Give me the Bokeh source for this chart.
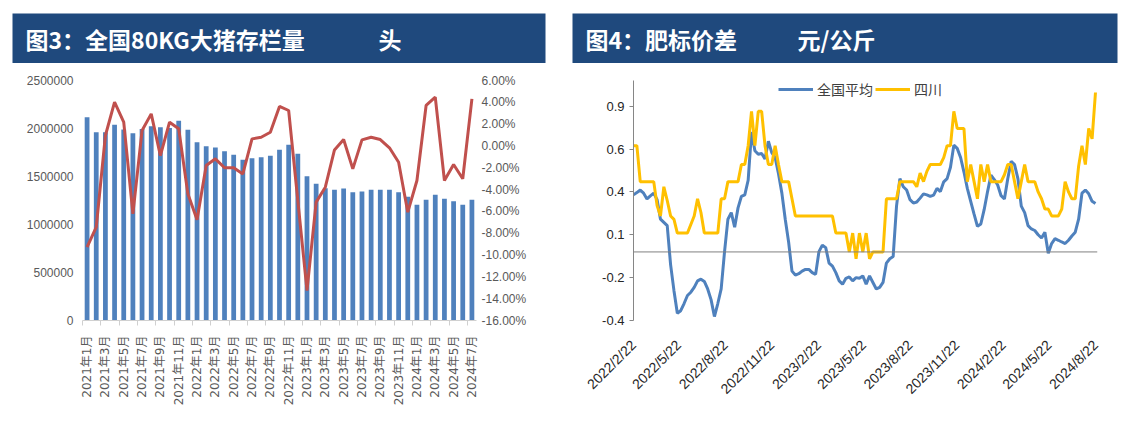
import math
import pandas as pd
from bokeh.plotting import figure
from bokeh.models import (Range1d, LinearAxis, FixedTicker, PrintfTickFormatter,
                          NumeralTickFormatter, Span, Legend, LegendItem)
from bokeh.layouts import column, row
from bokeh.core.properties import value
from bokeh.embed import file_html
from bokeh.resources import INLINE

# ---------------- data: chart 3 ----------------
months = [f"{y}年{m}月" for y in (2021, 2022, 2023, 2024) for m in range(1, 13)][:43]
inventory = [2118000, 1962000, 1960000, 2038000, 1990000, 1951000, 1995000, 2024000,
             2014000, 2005000, 2080000, 1986000, 1858000, 1816000, 1802000, 1764000,
             1726000, 1674000, 1691000, 1701000, 1715000, 1778000, 1830000, 1736000,
             1503000, 1424000, 1378000, 1361000, 1375000, 1337000, 1344000, 1361000,
             1361000, 1361000, 1337000, 1290000, 1205000, 1257000, 1309000, 1267000,
             1243000, 1205000, 1257000]
yoy_pct = [-9.28, -7.45, 0.96, 4.01, 2.18, -6.22, 1.42, 2.94, -0.88, 2.18, 1.57, -4.39,
           -6.77, -1.79, -1.18, -2.0, -2.0, -2.56, 0.65, 0.8, 1.26, 3.62, 3.25, -5.0,
           -13.25, -5.15, -3.78, -0.36, 0.59, -2.1, 0.56, 0.8, 0.59, -0.17, -1.49, -6.07,
           -3.17, 3.71, 4.47, -3.17, -1.7, -3.01, 4.32]
left_ticks = [0, 500000, 1000000, 1500000, 2000000, 2500000]
pct_ticks = list(range(-16, 7, 2))

# ---------------- data: chart 4 ----------------
national = [0.333, 0.346, 0.361, 0.343, 0.309, 0.327, 0.343, 0.305, 0.191, 0.172,
            0.153, -0.074, -0.226, -0.358, -0.343, -0.301, -0.254, -0.235, -0.207, -0.169,
            -0.159, -0.172, -0.216, -0.278, -0.377, -0.301, -0.216, 0.002, 0.191, 0.229,
            0.144, 0.257, 0.324, 0.333, 0.418, 0.700, 0.590, 0.570, 0.574, 0.542,
            0.646, 0.579, 0.551, 0.456, 0.343, 0.191, 0.058, -0.112, -0.135, -0.127,
            -0.112, -0.102, -0.102, -0.121, -0.131, 0.002, 0.040, 0.025, -0.065, -0.083,
            -0.121, -0.169, -0.188, -0.154, -0.146, -0.169, -0.150, -0.154, -0.140, -0.188,
            -0.140, -0.178, -0.216, -0.207, -0.178, -0.065, -0.040, -0.027, 0.267, 0.428,
            0.380, 0.361, 0.305, 0.285, 0.291, 0.314, 0.339, 0.333, 0.324, 0.331,
            0.371, 0.352, 0.409, 0.428, 0.494, 0.623, 0.604, 0.551, 0.466, 0.371,
            0.295, 0.220, 0.149, 0.163, 0.248, 0.352, 0.447, 0.422, 0.390, 0.328,
            0.309, 0.428, 0.528, 0.509, 0.428, 0.267, 0.229, 0.153, 0.134, 0.125,
            0.100, 0.081, 0.115, -0.008, 0.049, 0.077, 0.068, 0.058, 0.049, 0.068,
            0.093, 0.115, 0.191, 0.343, 0.361, 0.339, 0.295, 0.282]
sichuan = [0.62, 0.62, 0.41, 0.41, 0.41, 0.41, 0.41, 0.27, 0.21, 0.38,
           0.30, 0.21, 0.19, 0.11, 0.11, 0.11, 0.11, 0.16, 0.21, 0.31,
           0.23, 0.11, 0.11, 0.11, 0.11, 0.11, 0.31, 0.31, 0.41, 0.41,
           0.41, 0.41, 0.51, 0.51, 0.62, 0.82, 0.62, 0.82, 0.82, 0.62,
           0.51, 0.51, 0.62, 0.51, 0.41, 0.41, 0.41, 0.31, 0.21, 0.21,
           0.21, 0.21, 0.21, 0.21, 0.21, 0.21, 0.21, 0.21, 0.21, 0.21,
           0.11, 0.11, 0.11, 0.11, 0.0, 0.11, -0.04, 0.11, 0.0, 0.11,
           -0.04, 0.0, 0.0, 0.0, 0.0, 0.31, 0.31, 0.31, 0.31, 0.41,
           0.41, 0.41, 0.41, 0.41, 0.38, 0.46, 0.41, 0.47, 0.51, 0.51,
           0.51, 0.51, 0.55, 0.62, 0.62, 0.82, 0.72, 0.72, 0.72, 0.41,
           0.51, 0.41, 0.31, 0.51, 0.41, 0.51, 0.41, 0.41, 0.41, 0.41,
           0.45, 0.51, 0.51, 0.41, 0.31, 0.41, 0.51, 0.41, 0.41, 0.41,
           0.35, 0.31, 0.25, 0.25, 0.21, 0.21, 0.21, 0.25, 0.41, 0.35,
           0.31, 0.31, 0.50, 0.62, 0.51, 0.72, 0.66, 0.93]
date_start, date_end = "2022-02-22", "2024-08-22"
x_tick_labels = ["2022/2/22", "2022/5/22", "2022/8/22", "2022/11/22", "2023/2/22",
                 "2023/5/22", "2023/8/22", "2023/11/22", "2024/2/22", "2024/5/22",
                 "2024/8/22"]
y_tick_values = [-0.4, -0.15, 0.1, 0.35, 0.6, 0.85]
y_tick_labels = ["-0.4", "-0.2", "0.1", "0.4", "0.6", "0.9"]

HEADER_BLUE = "#1F497D"
CJK = "Noto Sans CJK SC"


def header(width, band_left, band_right, parts):
    h = figure(width=width, height=63, x_range=Range1d(0, width), y_range=Range1d(0, 63),
               toolbar_location=None, output_backend="svg",
               x_axis_location=None, y_axis_location=None, min_border=0)
    h.grid.visible = False
    h.outline_line_color = None
    h.quad(left=band_left, right=band_right, bottom=0, top=50,
           fill_color=HEADER_BLUE, line_color=None)
    for x, t in parts:
        h.text(x=[x], y=[25], text=[t], text_font=value(CJK), text_font_style="bold",
               text_font_size="23px", text_color="white", text_baseline="middle")
    return h


h1 = header(568, 12, 545, [(25, "图3：全国80KG大猪存栏量"), (378, "头")])
h2 = header(552, 4, 549, [(17, "图4：肥标价差"), (229, "元/公斤")])

# ---------------- chart 3 ----------------
idx = list(range(len(months)))
p1 = figure(width=568, height=350, x_range=Range1d(-0.5, len(months) - 0.5),
            y_range=Range1d(0, 2500000), toolbar_location=None, output_backend="svg",
            min_border_left=82, min_border_right=92, min_border_top=17, min_border_bottom=93)
p1.extra_y_ranges = {"pct": Range1d(-16, 6)}
p1.grid.visible = False
p1.outline_line_color = None
p1.vbar(x=idx, top=inventory, width=0.52, fill_color="#4F81BD", line_color=None)
p1.line(x=idx, y=yoy_pct, y_range_name="pct", line_color="#C0504D", line_width=3)

ya = p1.yaxis[0]
ya.ticker = FixedTicker(ticks=left_ticks)
ya.formatter = NumeralTickFormatter(format="0")
ya.axis_line_color = None
ya.major_tick_line_color = None
ya.minor_tick_line_color = None
ya.major_tick_out = 0
ya.major_label_standoff = 9
ya.major_label_text_font = "Liberation Sans"
ya.major_label_text_font_size = "12px"
ya.major_label_text_color = "#595959"

ra = LinearAxis(y_range_name="pct", ticker=FixedTicker(ticks=pct_ticks),
                formatter=PrintfTickFormatter(format="%.2f%%"))
ra.axis_line_color = None
ra.major_tick_line_color = None
ra.minor_tick_line_color = None
ra.major_tick_out = 0
ra.major_label_standoff = 5
ra.major_label_text_font = "Liberation Sans"
ra.major_label_text_font_size = "12px"
ra.major_label_text_color = "#595959"
p1.add_layout(ra, "right")

xa = p1.xaxis[0]
shown = idx[::2]
xa.ticker = FixedTicker(ticks=shown, minor_ticks=[i - 0.5 for i in shown])
xa.major_label_overrides = {i: months[i] for i in shown}
xa.major_label_orientation = math.pi / 2
xa.axis_line_color = "#d0d0d0"
xa.major_tick_line_color = None
xa.major_tick_out = 0
xa.minor_tick_out = 5
xa.minor_tick_in = 0
xa.minor_tick_line_color = "#d0d0d0"
xa.major_label_standoff = 10
xa.major_label_text_font = "DejaVu Sans, Noto Sans CJK SC"
xa.major_label_text_font_size = "12px"
xa.major_label_text_color = "#595959"

# ---------------- chart 4 ----------------
dates = pd.date_range(date_start, date_end, periods=len(national))
pad = pd.Timedelta(days=4)
p2 = figure(width=552, height=350, x_axis_type="datetime",
            x_range=Range1d(dates[0], dates[-1] + pad), y_range=Range1d(-0.4, 1.0),
            toolbar_location=None, output_backend="svg",
            min_border_left=65, min_border_right=23, min_border_top=11, min_border_bottom=93)
p2.grid.visible = False
p2.outline_line_color = None
p2.add_layout(Span(location=0, dimension="width", line_color="#808080", line_width=1))
r_nat = p2.line(dates, national, line_color="#4F81BD", line_width=3)
r_sc = p2.line(dates, sichuan, line_color="#FFC000", line_width=3)

tick_ms = [int(pd.Timestamp(pd.to_datetime(t, format="%Y/%m/%d")).value // 10**6) for t in x_tick_labels]
xb = p2.xaxis[0]
xb.ticker = FixedTicker(ticks=tick_ms)
xb.major_label_overrides = {ms: lab for ms, lab in zip(tick_ms, x_tick_labels)}
xb.major_label_orientation = math.pi / 4
xb.axis_line_color = None
xb.major_tick_line_color = None
xb.minor_tick_line_color = None
xb.major_tick_out = 0
xb.major_label_standoff = 22
xb.major_label_text_font = "Liberation Sans"
xb.major_label_text_font_size = "14px"
xb.major_label_text_color = "#262626"

yb = p2.yaxis[0]
yb.ticker = FixedTicker(ticks=y_tick_values)
yb.major_label_overrides = {v: s for v, s in zip(y_tick_values, y_tick_labels)}
yb.axis_line_color = "#868686"
yb.major_tick_line_color = "#868686"
yb.major_tick_out = 4
yb.major_tick_in = 0
yb.minor_tick_line_color = None
yb.major_label_standoff = 5
yb.major_label_text_font = "Liberation Sans"
yb.major_label_text_font_size = "13px"
yb.major_label_text_color = "#262626"

legend = Legend(items=[LegendItem(label="全国平均", renderers=[r_nat]),
                       LegendItem(label="四川", renderers=[r_sc])],
                orientation="horizontal", location=(145, 221))
legend.margin = 0
legend.padding = 0
legend.spacing = 2
legend.glyph_width = 35
legend.label_standoff = 4
legend.border_line_color = None
legend.background_fill_alpha = 0
legend.label_text_font = CJK
legend.label_text_font_size = "14px"
legend.label_text_color = "#404040"
p2.add_layout(legend)

layout = column(row(h1, h2), row(p1, p2))
open("out.html", "w").write(file_html(layout, INLINE))
